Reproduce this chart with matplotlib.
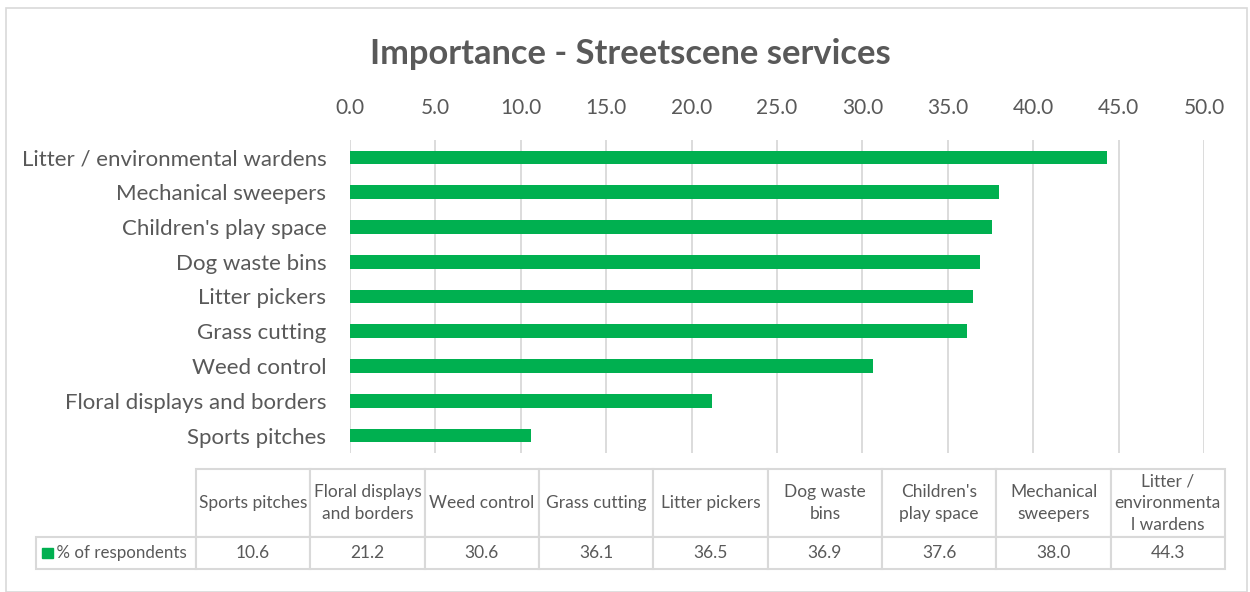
import matplotlib.pyplot as plt
from matplotlib.table import Table
from matplotlib.patches import Rectangle

# data (top of chart first)
categories = ['Litter / environmental wardens', 'Mechanical sweepers', "Children's play space",
              'Dog waste bins', 'Litter pickers', 'Grass cutting', 'Weed control',
              'Floral displays and borders', 'Sports pitches']
values = [44.3, 38.0, 37.6, 36.9, 36.5, 36.1, 30.6, 21.2, 10.6]

# data table, in the order excel lists it
table_headers = ['Sports pitches', 'Floral displays\nand borders', 'Weed control', 'Grass cutting',
                 'Litter pickers', 'Dog waste\nbins', "Children's\nplay space", 'Mechanical\nsweepers',
                 'Litter /\nenvironmenta\nl wardens']
table_values = ['10.6', '21.2', '30.6', '36.1', '36.5', '36.9', '37.6', '38.0', '44.3']
series_name = '% of respondents'

GREEN = '#00B050'
TEXT = '#595959'
GRID = '#D9D9D9'
FONT = 'Lato'

plt.rcParams['font.family'] = FONT

fig = plt.figure(figsize=(12.5, 5.92), dpi=100)
W, H = 1250, 592

# chart border
fig.patches.append(Rectangle((6 / W, 0), (1247 - 6) / W, (592 - 8) / H, transform=fig.transFigure,
                             fill=False, edgecolor=GRID, linewidth=1.2))

fig.text(630 / W, 1 - 54 / H, 'Importance - Streetscene services', ha='center', va='center',
         fontsize=24.8, fontweight='bold', color=TEXT)

ax = fig.add_axes([350 / W, 1 - 453 / H, (1204 - 350) / W, (453 - 140) / H])
ypos = list(range(len(categories)))
ax.barh(ypos, values, height=0.39, color=GREEN)
ax.set_ylim(len(categories) - 0.5, -0.5)
ax.set_xlim(0, 50)
ax.set_xticks([i * 5 for i in range(11)])
ax.set_xticklabels([f'{i * 5:.1f}' for i in range(11)])
ax.set_yticks(ypos)
ax.set_yticklabels(categories)
ax.xaxis.tick_top()
ax.tick_params(axis='x', length=0, pad=16, labelsize=15, labelcolor=TEXT)
ax.tick_params(axis='y', length=0, pad=17, labelsize=16, labelcolor=TEXT)
ax.grid(axis='x', color=GRID, linewidth=1.3)
ax.set_axisbelow(True)
for s in ax.spines.values():
    s.set_visible(False)

# data table under the chart
tax = fig.add_axes([36 / W, 1 - 569 / H, (1225 - 36) / W, (569 - 469) / H])
tax.axis('off')
tb = Table(tax, bbox=[0, 0, 1, 1])
label_w, col_w = 160, (1225 - 196) / len(table_headers)
head_h, row_h = 68, 32
for j, (hd, v) in enumerate(zip(table_headers, table_values), start=1):
    tb.add_cell(0, j, col_w, head_h, text=hd, loc='center')
    tb.add_cell(1, j, col_w, row_h, text=v, loc='center')
c = tb.add_cell(1, 0, label_w, row_h, text='    ' + series_name, loc='left')
c.PAD = 0.02
for cell in tb.get_celld().values():
    cell.set_edgecolor(GRID)
    cell.set_linewidth(1.5)
    cell.get_text().set_color(TEXT)
    cell.get_text().set_fontsize(12.5)
    cell.get_text().set_linespacing(1.45)
c.get_text().set_fontsize(12.2)
tb.auto_set_font_size(False)
tax.add_table(tb)

# legend key square in the label cell
tot_w = label_w + col_w * len(table_headers)
tax.add_patch(Rectangle(((42 - 36) / tot_w, (569 - 558) / (head_h + row_h)),
                        10.5 / tot_w, 10.5 / (head_h + row_h), color=GREEN))

fig.savefig('out.png', dpi=100)
